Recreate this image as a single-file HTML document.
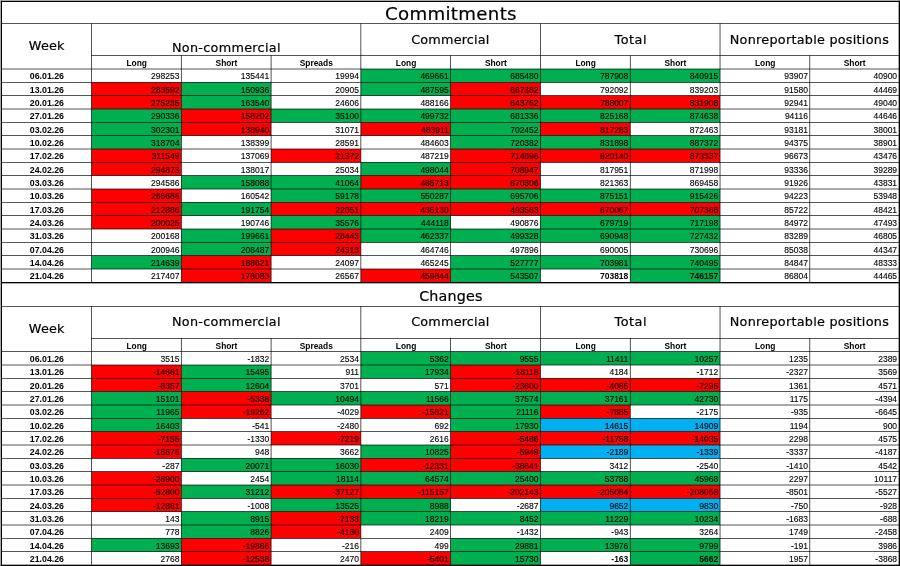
<!DOCTYPE html>
<html><head><meta charset="utf-8"><title>COT report</title>
<style>
html,body{margin:0;padding:0;background:#fff;}
svg{display:block}
text{fill:#000;stroke:#000;stroke-width:0.2px}
.n{stroke-width:0.12px}
.s,.d,.b{stroke-width:0}
.t{font-family:"DejaVu Sans","Liberation Sans",sans-serif;font-size:18.2px}
.t2{font-family:"DejaVu Sans","Liberation Sans",sans-serif;font-size:14.3px}
.h{font-family:"DejaVu Sans","Liberation Sans",sans-serif;font-size:12.8px}
.s{font-family:"Liberation Sans",sans-serif;font-size:8.4px;font-weight:bold}
.d{font-family:"Liberation Sans",sans-serif;font-size:8.8px;font-weight:bold}
.n{font-family:"Liberation Sans",sans-serif;font-size:8.5px}
.b{font-weight:bold}
</style></head><body>
<svg width="900" height="566" viewBox="0 0 900 566">
<rect x="0" y="0" width="900" height="566" fill="#ffffff"/>
<rect x="360.870" y="69.000" width="89.790" height="13.333" fill="#00b050"/>
<rect x="450.660" y="69.000" width="89.790" height="13.333" fill="#00b050"/>
<rect x="540.450" y="69.000" width="89.790" height="13.333" fill="#00b050"/>
<rect x="630.240" y="69.000" width="89.790" height="13.333" fill="#00b050"/>
<rect x="91.500" y="82.333" width="89.790" height="13.333" fill="#ff0000"/>
<rect x="181.290" y="82.333" width="89.790" height="13.333" fill="#00b050"/>
<rect x="360.870" y="82.333" width="89.790" height="13.333" fill="#00b050"/>
<rect x="450.660" y="82.333" width="89.790" height="13.333" fill="#ff0000"/>
<rect x="91.500" y="95.667" width="89.790" height="13.333" fill="#ff0000"/>
<rect x="181.290" y="95.667" width="89.790" height="13.333" fill="#00b050"/>
<rect x="450.660" y="95.667" width="89.790" height="13.333" fill="#ff0000"/>
<rect x="540.450" y="95.667" width="89.790" height="13.333" fill="#ff0000"/>
<rect x="630.240" y="95.667" width="89.790" height="13.333" fill="#ff0000"/>
<rect x="91.500" y="109.000" width="89.790" height="13.333" fill="#00b050"/>
<rect x="181.290" y="109.000" width="89.790" height="13.333" fill="#ff0000"/>
<rect x="271.080" y="109.000" width="89.790" height="13.333" fill="#00b050"/>
<rect x="360.870" y="109.000" width="89.790" height="13.333" fill="#00b050"/>
<rect x="450.660" y="109.000" width="89.790" height="13.333" fill="#00b050"/>
<rect x="540.450" y="109.000" width="89.790" height="13.333" fill="#00b050"/>
<rect x="630.240" y="109.000" width="89.790" height="13.333" fill="#00b050"/>
<rect x="91.500" y="122.333" width="89.790" height="13.333" fill="#00b050"/>
<rect x="181.290" y="122.333" width="89.790" height="13.333" fill="#ff0000"/>
<rect x="360.870" y="122.333" width="89.790" height="13.333" fill="#ff0000"/>
<rect x="450.660" y="122.333" width="89.790" height="13.333" fill="#00b050"/>
<rect x="540.450" y="122.333" width="89.790" height="13.333" fill="#ff0000"/>
<rect x="91.500" y="135.667" width="89.790" height="13.333" fill="#00b050"/>
<rect x="450.660" y="135.667" width="89.790" height="13.333" fill="#00b050"/>
<rect x="540.450" y="135.667" width="89.790" height="13.333" fill="#00b050"/>
<rect x="630.240" y="135.667" width="89.790" height="13.333" fill="#00b050"/>
<rect x="91.500" y="149.000" width="89.790" height="13.333" fill="#ff0000"/>
<rect x="271.080" y="149.000" width="89.790" height="13.333" fill="#ff0000"/>
<rect x="450.660" y="149.000" width="89.790" height="13.333" fill="#ff0000"/>
<rect x="540.450" y="149.000" width="89.790" height="13.333" fill="#ff0000"/>
<rect x="630.240" y="149.000" width="89.790" height="13.333" fill="#ff0000"/>
<rect x="91.500" y="162.333" width="89.790" height="13.333" fill="#ff0000"/>
<rect x="360.870" y="162.333" width="89.790" height="13.333" fill="#00b050"/>
<rect x="450.660" y="162.333" width="89.790" height="13.333" fill="#ff0000"/>
<rect x="181.290" y="175.667" width="89.790" height="13.333" fill="#00b050"/>
<rect x="271.080" y="175.667" width="89.790" height="13.333" fill="#00b050"/>
<rect x="360.870" y="175.667" width="89.790" height="13.333" fill="#ff0000"/>
<rect x="450.660" y="175.667" width="89.790" height="13.333" fill="#ff0000"/>
<rect x="91.500" y="189.000" width="89.790" height="13.333" fill="#ff0000"/>
<rect x="271.080" y="189.000" width="89.790" height="13.333" fill="#00b050"/>
<rect x="360.870" y="189.000" width="89.790" height="13.333" fill="#00b050"/>
<rect x="450.660" y="189.000" width="89.790" height="13.333" fill="#00b050"/>
<rect x="540.450" y="189.000" width="89.790" height="13.333" fill="#00b050"/>
<rect x="630.240" y="189.000" width="89.790" height="13.333" fill="#00b050"/>
<rect x="91.500" y="202.333" width="89.790" height="13.333" fill="#ff0000"/>
<rect x="181.290" y="202.333" width="89.790" height="13.333" fill="#00b050"/>
<rect x="271.080" y="202.333" width="89.790" height="13.333" fill="#ff0000"/>
<rect x="360.870" y="202.333" width="89.790" height="13.333" fill="#ff0000"/>
<rect x="450.660" y="202.333" width="89.790" height="13.333" fill="#ff0000"/>
<rect x="540.450" y="202.333" width="89.790" height="13.333" fill="#ff0000"/>
<rect x="630.240" y="202.333" width="89.790" height="13.333" fill="#ff0000"/>
<rect x="91.500" y="215.667" width="89.790" height="13.333" fill="#ff0000"/>
<rect x="271.080" y="215.667" width="89.790" height="13.333" fill="#00b050"/>
<rect x="360.870" y="215.667" width="89.790" height="13.333" fill="#00b050"/>
<rect x="540.450" y="215.667" width="89.790" height="13.333" fill="#00b050"/>
<rect x="630.240" y="215.667" width="89.790" height="13.333" fill="#00b050"/>
<rect x="181.290" y="229.000" width="89.790" height="13.333" fill="#00b050"/>
<rect x="271.080" y="229.000" width="89.790" height="13.333" fill="#ff0000"/>
<rect x="360.870" y="229.000" width="89.790" height="13.333" fill="#00b050"/>
<rect x="450.660" y="229.000" width="89.790" height="13.333" fill="#00b050"/>
<rect x="540.450" y="229.000" width="89.790" height="13.333" fill="#00b050"/>
<rect x="630.240" y="229.000" width="89.790" height="13.333" fill="#00b050"/>
<rect x="181.290" y="242.333" width="89.790" height="13.333" fill="#00b050"/>
<rect x="271.080" y="242.333" width="89.790" height="13.333" fill="#ff0000"/>
<rect x="91.500" y="255.667" width="89.790" height="13.333" fill="#00b050"/>
<rect x="181.290" y="255.667" width="89.790" height="13.333" fill="#ff0000"/>
<rect x="450.660" y="255.667" width="89.790" height="13.333" fill="#00b050"/>
<rect x="540.450" y="255.667" width="89.790" height="13.333" fill="#00b050"/>
<rect x="630.240" y="255.667" width="89.790" height="13.333" fill="#00b050"/>
<rect x="181.290" y="269.000" width="89.790" height="13.333" fill="#ff0000"/>
<rect x="360.870" y="269.000" width="89.790" height="13.333" fill="#ff0000"/>
<rect x="450.660" y="269.000" width="89.790" height="13.333" fill="#00b050"/>
<rect x="630.240" y="269.000" width="89.790" height="13.333" fill="#00b050"/>
<rect x="1.000" y="23.333" width="898.500" height="0.667" fill="#000"/>
<rect x="91.167" y="55.333" width="808.333" height="0.667" fill="#000"/>
<rect x="1.000" y="68.667" width="898.500" height="0.667" fill="#000"/>
<rect x="1.000" y="82.000" width="898.500" height="0.667" fill="#000"/>
<rect x="1.000" y="95.333" width="898.500" height="0.667" fill="#000"/>
<rect x="1.000" y="108.667" width="898.500" height="0.667" fill="#000"/>
<rect x="1.000" y="122.000" width="898.500" height="0.667" fill="#000"/>
<rect x="1.000" y="135.333" width="898.500" height="0.667" fill="#000"/>
<rect x="1.000" y="148.667" width="898.500" height="0.667" fill="#000"/>
<rect x="1.000" y="162.000" width="898.500" height="0.667" fill="#000"/>
<rect x="1.000" y="175.333" width="898.500" height="0.667" fill="#000"/>
<rect x="1.000" y="188.667" width="898.500" height="0.667" fill="#000"/>
<rect x="1.000" y="202.000" width="898.500" height="0.667" fill="#000"/>
<rect x="1.000" y="215.333" width="898.500" height="0.667" fill="#000"/>
<rect x="1.000" y="228.667" width="898.500" height="0.667" fill="#000"/>
<rect x="1.000" y="242.000" width="898.500" height="0.667" fill="#000"/>
<rect x="1.000" y="255.333" width="898.500" height="0.667" fill="#000"/>
<rect x="1.000" y="268.667" width="898.500" height="0.667" fill="#000"/>
<rect x="91.167" y="23.333" width="0.667" height="258.667" fill="#000"/>
<rect x="180.957" y="55.333" width="0.667" height="226.667" fill="#000"/>
<rect x="270.747" y="55.333" width="0.667" height="226.667" fill="#000"/>
<rect x="360.537" y="23.333" width="0.667" height="258.667" fill="#000"/>
<rect x="450.327" y="55.333" width="0.667" height="226.667" fill="#000"/>
<rect x="540.117" y="23.333" width="0.667" height="258.667" fill="#000"/>
<rect x="629.907" y="55.333" width="0.667" height="226.667" fill="#000"/>
<rect x="719.697" y="23.333" width="0.667" height="258.667" fill="#000"/>
<rect x="809.487" y="55.333" width="0.667" height="226.667" fill="#000"/>
<text x="450.80" y="19.93" class="t" text-anchor="middle" textLength="131.5" lengthAdjust="spacing">Commitments</text>
<text x="46.60" y="50.13" class="h" text-anchor="middle" textLength="35.6" lengthAdjust="spacing">Week</text>
<text x="226.20" y="52.13" class="h" text-anchor="middle" textLength="108.6" lengthAdjust="spacing">Non-commercial</text>
<text x="450.30" y="43.63" class="h" text-anchor="middle" textLength="78.2" lengthAdjust="spacing">Commercial</text>
<text x="630.50" y="43.63" class="h" text-anchor="middle" textLength="32.0" lengthAdjust="spacing">Total</text>
<text x="809.30" y="43.63" class="h" text-anchor="middle" textLength="159.0" lengthAdjust="spacing">Nonreportable positions</text>
<text x="136.70" y="66.00" class="s" text-anchor="middle">Long</text>
<text x="226.49" y="66.00" class="s" text-anchor="middle">Short</text>
<text x="316.28" y="66.00" class="s" text-anchor="middle">Spreads</text>
<text x="406.07" y="66.00" class="s" text-anchor="middle">Long</text>
<text x="495.86" y="66.00" class="s" text-anchor="middle">Short</text>
<text x="585.64" y="66.00" class="s" text-anchor="middle">Long</text>
<text x="675.43" y="66.00" class="s" text-anchor="middle">Short</text>
<text x="765.22" y="66.00" class="s" text-anchor="middle">Long</text>
<text x="854.71" y="66.00" class="s" text-anchor="middle">Short</text>
<text x="46.90" y="79.00" class="d" text-anchor="middle">06.01.26</text>
<text x="179.39" y="79.00" class="n" text-anchor="end">298253</text>
<text x="269.18" y="79.00" class="n" text-anchor="end">135441</text>
<text x="358.97" y="79.00" class="n" text-anchor="end">19994</text>
<text x="448.76" y="79.00" class="n" text-anchor="end">469661</text>
<text x="538.55" y="79.00" class="n" text-anchor="end">685480</text>
<text x="628.34" y="79.00" class="n" text-anchor="end">787908</text>
<text x="718.13" y="79.00" class="n" text-anchor="end">840915</text>
<text x="807.92" y="79.00" class="n" text-anchor="end">93907</text>
<text x="897.10" y="79.00" class="n" text-anchor="end">40900</text>
<text x="46.90" y="93.00" class="d" text-anchor="middle">13.01.26</text>
<text x="179.39" y="93.00" class="n" text-anchor="end">283592</text>
<text x="269.18" y="93.00" class="n" text-anchor="end">150936</text>
<text x="358.97" y="93.00" class="n" text-anchor="end">20905</text>
<text x="448.76" y="93.00" class="n" text-anchor="end">487595</text>
<text x="538.55" y="93.00" class="n" text-anchor="end">667362</text>
<text x="628.34" y="93.00" class="n" text-anchor="end">792092</text>
<text x="718.13" y="93.00" class="n" text-anchor="end">839203</text>
<text x="807.92" y="93.00" class="n" text-anchor="end">91580</text>
<text x="897.10" y="93.00" class="n" text-anchor="end">44469</text>
<text x="46.90" y="106.00" class="d" text-anchor="middle">20.01.26</text>
<text x="179.39" y="106.00" class="n" text-anchor="end">275235</text>
<text x="269.18" y="106.00" class="n" text-anchor="end">163540</text>
<text x="358.97" y="106.00" class="n" text-anchor="end">24606</text>
<text x="448.76" y="106.00" class="n" text-anchor="end">488166</text>
<text x="538.55" y="106.00" class="n" text-anchor="end">643762</text>
<text x="628.34" y="106.00" class="n" text-anchor="end">788007</text>
<text x="718.13" y="106.00" class="n" text-anchor="end">831908</text>
<text x="807.92" y="106.00" class="n" text-anchor="end">92941</text>
<text x="897.10" y="106.00" class="n" text-anchor="end">49040</text>
<text x="46.90" y="119.00" class="d" text-anchor="middle">27.01.26</text>
<text x="179.39" y="119.00" class="n" text-anchor="end">290336</text>
<text x="269.18" y="119.00" class="n" text-anchor="end">158202</text>
<text x="358.97" y="119.00" class="n" text-anchor="end">35100</text>
<text x="448.76" y="119.00" class="n" text-anchor="end">499732</text>
<text x="538.55" y="119.00" class="n" text-anchor="end">681336</text>
<text x="628.34" y="119.00" class="n" text-anchor="end">825168</text>
<text x="718.13" y="119.00" class="n" text-anchor="end">874638</text>
<text x="807.92" y="119.00" class="n" text-anchor="end">94116</text>
<text x="897.10" y="119.00" class="n" text-anchor="end">44646</text>
<text x="46.90" y="133.00" class="d" text-anchor="middle">03.02.26</text>
<text x="179.39" y="133.00" class="n" text-anchor="end">302301</text>
<text x="269.18" y="133.00" class="n" text-anchor="end">138940</text>
<text x="358.97" y="133.00" class="n" text-anchor="end">31071</text>
<text x="448.76" y="133.00" class="n" text-anchor="end">483911</text>
<text x="538.55" y="133.00" class="n" text-anchor="end">702452</text>
<text x="628.34" y="133.00" class="n" text-anchor="end">817283</text>
<text x="718.13" y="133.00" class="n" text-anchor="end">872463</text>
<text x="807.92" y="133.00" class="n" text-anchor="end">93181</text>
<text x="897.10" y="133.00" class="n" text-anchor="end">38001</text>
<text x="46.90" y="146.00" class="d" text-anchor="middle">10.02.26</text>
<text x="179.39" y="146.00" class="n" text-anchor="end">318704</text>
<text x="269.18" y="146.00" class="n" text-anchor="end">138399</text>
<text x="358.97" y="146.00" class="n" text-anchor="end">28591</text>
<text x="448.76" y="146.00" class="n" text-anchor="end">484603</text>
<text x="538.55" y="146.00" class="n" text-anchor="end">720382</text>
<text x="628.34" y="146.00" class="n" text-anchor="end">831898</text>
<text x="718.13" y="146.00" class="n" text-anchor="end">887372</text>
<text x="807.92" y="146.00" class="n" text-anchor="end">94375</text>
<text x="897.10" y="146.00" class="n" text-anchor="end">38901</text>
<text x="46.90" y="159.00" class="d" text-anchor="middle">17.02.26</text>
<text x="179.39" y="159.00" class="n" text-anchor="end">311549</text>
<text x="269.18" y="159.00" class="n" text-anchor="end">137069</text>
<text x="358.97" y="159.00" class="n" text-anchor="end">21372</text>
<text x="448.76" y="159.00" class="n" text-anchor="end">487219</text>
<text x="538.55" y="159.00" class="n" text-anchor="end">714896</text>
<text x="628.34" y="159.00" class="n" text-anchor="end">820140</text>
<text x="718.13" y="159.00" class="n" text-anchor="end">873337</text>
<text x="807.92" y="159.00" class="n" text-anchor="end">96673</text>
<text x="897.10" y="159.00" class="n" text-anchor="end">43476</text>
<text x="46.90" y="173.00" class="d" text-anchor="middle">24.02.26</text>
<text x="179.39" y="173.00" class="n" text-anchor="end">294873</text>
<text x="269.18" y="173.00" class="n" text-anchor="end">138017</text>
<text x="358.97" y="173.00" class="n" text-anchor="end">25034</text>
<text x="448.76" y="173.00" class="n" text-anchor="end">498044</text>
<text x="538.55" y="173.00" class="n" text-anchor="end">708947</text>
<text x="628.34" y="173.00" class="n" text-anchor="end">817951</text>
<text x="718.13" y="173.00" class="n" text-anchor="end">871998</text>
<text x="807.92" y="173.00" class="n" text-anchor="end">93336</text>
<text x="897.10" y="173.00" class="n" text-anchor="end">39289</text>
<text x="46.90" y="186.00" class="d" text-anchor="middle">03.03.26</text>
<text x="179.39" y="186.00" class="n" text-anchor="end">294586</text>
<text x="269.18" y="186.00" class="n" text-anchor="end">158088</text>
<text x="358.97" y="186.00" class="n" text-anchor="end">41064</text>
<text x="448.76" y="186.00" class="n" text-anchor="end">485713</text>
<text x="538.55" y="186.00" class="n" text-anchor="end">670306</text>
<text x="628.34" y="186.00" class="n" text-anchor="end">821363</text>
<text x="718.13" y="186.00" class="n" text-anchor="end">869458</text>
<text x="807.92" y="186.00" class="n" text-anchor="end">91926</text>
<text x="897.10" y="186.00" class="n" text-anchor="end">43831</text>
<text x="46.90" y="199.00" class="d" text-anchor="middle">10.03.26</text>
<text x="179.39" y="199.00" class="n" text-anchor="end">265686</text>
<text x="269.18" y="199.00" class="n" text-anchor="end">160542</text>
<text x="358.97" y="199.00" class="n" text-anchor="end">59178</text>
<text x="448.76" y="199.00" class="n" text-anchor="end">550287</text>
<text x="538.55" y="199.00" class="n" text-anchor="end">695706</text>
<text x="628.34" y="199.00" class="n" text-anchor="end">875151</text>
<text x="718.13" y="199.00" class="n" text-anchor="end">915426</text>
<text x="807.92" y="199.00" class="n" text-anchor="end">94223</text>
<text x="897.10" y="199.00" class="n" text-anchor="end">53948</text>
<text x="46.90" y="213.00" class="d" text-anchor="middle">17.03.26</text>
<text x="179.39" y="213.00" class="n" text-anchor="end">212886</text>
<text x="269.18" y="213.00" class="n" text-anchor="end">191754</text>
<text x="358.97" y="213.00" class="n" text-anchor="end">22051</text>
<text x="448.76" y="213.00" class="n" text-anchor="end">435130</text>
<text x="538.55" y="213.00" class="n" text-anchor="end">493563</text>
<text x="628.34" y="213.00" class="n" text-anchor="end">670067</text>
<text x="718.13" y="213.00" class="n" text-anchor="end">707368</text>
<text x="807.92" y="213.00" class="n" text-anchor="end">85722</text>
<text x="897.10" y="213.00" class="n" text-anchor="end">48421</text>
<text x="46.90" y="226.00" class="d" text-anchor="middle">24.03.26</text>
<text x="179.39" y="226.00" class="n" text-anchor="end">200025</text>
<text x="269.18" y="226.00" class="n" text-anchor="end">190746</text>
<text x="358.97" y="226.00" class="n" text-anchor="end">35576</text>
<text x="448.76" y="226.00" class="n" text-anchor="end">444118</text>
<text x="538.55" y="226.00" class="n" text-anchor="end">490876</text>
<text x="628.34" y="226.00" class="n" text-anchor="end">679719</text>
<text x="718.13" y="226.00" class="n" text-anchor="end">717198</text>
<text x="807.92" y="226.00" class="n" text-anchor="end">84972</text>
<text x="897.10" y="226.00" class="n" text-anchor="end">47493</text>
<text x="46.90" y="239.00" class="d" text-anchor="middle">31.03.26</text>
<text x="179.39" y="239.00" class="n" text-anchor="end">200168</text>
<text x="269.18" y="239.00" class="n" text-anchor="end">199661</text>
<text x="358.97" y="239.00" class="n" text-anchor="end">28443</text>
<text x="448.76" y="239.00" class="n" text-anchor="end">462337</text>
<text x="538.55" y="239.00" class="n" text-anchor="end">499328</text>
<text x="628.34" y="239.00" class="n" text-anchor="end">690948</text>
<text x="718.13" y="239.00" class="n" text-anchor="end">727432</text>
<text x="807.92" y="239.00" class="n" text-anchor="end">83289</text>
<text x="897.10" y="239.00" class="n" text-anchor="end">46805</text>
<text x="46.90" y="253.00" class="d" text-anchor="middle">07.04.26</text>
<text x="179.39" y="253.00" class="n" text-anchor="end">200946</text>
<text x="269.18" y="253.00" class="n" text-anchor="end">208487</text>
<text x="358.97" y="253.00" class="n" text-anchor="end">24313</text>
<text x="448.76" y="253.00" class="n" text-anchor="end">464746</text>
<text x="538.55" y="253.00" class="n" text-anchor="end">497896</text>
<text x="628.34" y="253.00" class="n" text-anchor="end">690005</text>
<text x="718.13" y="253.00" class="n" text-anchor="end">730696</text>
<text x="807.92" y="253.00" class="n" text-anchor="end">85038</text>
<text x="897.10" y="253.00" class="n" text-anchor="end">44347</text>
<text x="46.90" y="266.00" class="d" text-anchor="middle">14.04.26</text>
<text x="179.39" y="266.00" class="n" text-anchor="end">214639</text>
<text x="269.18" y="266.00" class="n" text-anchor="end">188621</text>
<text x="358.97" y="266.00" class="n" text-anchor="end">24097</text>
<text x="448.76" y="266.00" class="n" text-anchor="end">465245</text>
<text x="538.55" y="266.00" class="n" text-anchor="end">527777</text>
<text x="628.34" y="266.00" class="n" text-anchor="end">703981</text>
<text x="718.13" y="266.00" class="n" text-anchor="end">740495</text>
<text x="807.92" y="266.00" class="n" text-anchor="end">84847</text>
<text x="897.10" y="266.00" class="n" text-anchor="end">48333</text>
<text x="46.90" y="279.00" class="d" text-anchor="middle">21.04.26</text>
<text x="179.39" y="279.00" class="n" text-anchor="end">217407</text>
<text x="269.18" y="279.00" class="n" text-anchor="end">176083</text>
<text x="358.97" y="279.00" class="n" text-anchor="end">26567</text>
<text x="448.76" y="279.00" class="n" text-anchor="end">459844</text>
<text x="538.55" y="279.00" class="n" text-anchor="end">543507</text>
<text x="628.34" y="279.00" class="n b" text-anchor="end">703818</text>
<text x="718.13" y="279.00" class="n b" text-anchor="end">746157</text>
<text x="807.92" y="279.00" class="n" text-anchor="end">86804</text>
<text x="897.10" y="279.00" class="n" text-anchor="end">44465</text>
<rect x="360.870" y="351.667" width="89.790" height="13.333" fill="#00b050"/>
<rect x="450.660" y="351.667" width="89.790" height="13.333" fill="#00b050"/>
<rect x="540.450" y="351.667" width="89.790" height="13.333" fill="#00b050"/>
<rect x="630.240" y="351.667" width="89.790" height="13.333" fill="#00b050"/>
<rect x="91.500" y="365.000" width="89.790" height="13.333" fill="#ff0000"/>
<rect x="181.290" y="365.000" width="89.790" height="13.333" fill="#00b050"/>
<rect x="360.870" y="365.000" width="89.790" height="13.333" fill="#00b050"/>
<rect x="450.660" y="365.000" width="89.790" height="13.333" fill="#ff0000"/>
<rect x="91.500" y="378.333" width="89.790" height="13.333" fill="#ff0000"/>
<rect x="181.290" y="378.333" width="89.790" height="13.333" fill="#00b050"/>
<rect x="450.660" y="378.333" width="89.790" height="13.333" fill="#ff0000"/>
<rect x="540.450" y="378.333" width="89.790" height="13.333" fill="#ff0000"/>
<rect x="630.240" y="378.333" width="89.790" height="13.333" fill="#ff0000"/>
<rect x="91.500" y="391.667" width="89.790" height="13.333" fill="#00b050"/>
<rect x="181.290" y="391.667" width="89.790" height="13.333" fill="#ff0000"/>
<rect x="271.080" y="391.667" width="89.790" height="13.333" fill="#00b050"/>
<rect x="360.870" y="391.667" width="89.790" height="13.333" fill="#00b050"/>
<rect x="450.660" y="391.667" width="89.790" height="13.333" fill="#00b050"/>
<rect x="540.450" y="391.667" width="89.790" height="13.333" fill="#00b050"/>
<rect x="630.240" y="391.667" width="89.790" height="13.333" fill="#00b050"/>
<rect x="91.500" y="405.000" width="89.790" height="13.333" fill="#00b050"/>
<rect x="181.290" y="405.000" width="89.790" height="13.333" fill="#ff0000"/>
<rect x="360.870" y="405.000" width="89.790" height="13.333" fill="#ff0000"/>
<rect x="450.660" y="405.000" width="89.790" height="13.333" fill="#00b050"/>
<rect x="540.450" y="405.000" width="89.790" height="13.333" fill="#ff0000"/>
<rect x="91.500" y="418.333" width="89.790" height="13.333" fill="#00b050"/>
<rect x="450.660" y="418.333" width="89.790" height="13.333" fill="#00b050"/>
<rect x="540.450" y="418.333" width="89.790" height="13.333" fill="#00b0f0"/>
<rect x="630.240" y="418.333" width="89.790" height="13.333" fill="#00b0f0"/>
<rect x="91.500" y="431.667" width="89.790" height="13.333" fill="#ff0000"/>
<rect x="271.080" y="431.667" width="89.790" height="13.333" fill="#ff0000"/>
<rect x="450.660" y="431.667" width="89.790" height="13.333" fill="#ff0000"/>
<rect x="540.450" y="431.667" width="89.790" height="13.333" fill="#ff0000"/>
<rect x="630.240" y="431.667" width="89.790" height="13.333" fill="#ff0000"/>
<rect x="91.500" y="445.000" width="89.790" height="13.333" fill="#ff0000"/>
<rect x="360.870" y="445.000" width="89.790" height="13.333" fill="#00b050"/>
<rect x="450.660" y="445.000" width="89.790" height="13.333" fill="#ff0000"/>
<rect x="540.450" y="445.000" width="89.790" height="13.333" fill="#00b0f0"/>
<rect x="630.240" y="445.000" width="89.790" height="13.333" fill="#00b0f0"/>
<rect x="181.290" y="458.333" width="89.790" height="13.333" fill="#00b050"/>
<rect x="271.080" y="458.333" width="89.790" height="13.333" fill="#00b050"/>
<rect x="360.870" y="458.333" width="89.790" height="13.333" fill="#ff0000"/>
<rect x="450.660" y="458.333" width="89.790" height="13.333" fill="#ff0000"/>
<rect x="91.500" y="471.667" width="89.790" height="13.333" fill="#ff0000"/>
<rect x="271.080" y="471.667" width="89.790" height="13.333" fill="#00b050"/>
<rect x="360.870" y="471.667" width="89.790" height="13.333" fill="#00b050"/>
<rect x="450.660" y="471.667" width="89.790" height="13.333" fill="#00b050"/>
<rect x="540.450" y="471.667" width="89.790" height="13.333" fill="#00b050"/>
<rect x="630.240" y="471.667" width="89.790" height="13.333" fill="#00b050"/>
<rect x="91.500" y="485.000" width="89.790" height="13.333" fill="#ff0000"/>
<rect x="181.290" y="485.000" width="89.790" height="13.333" fill="#00b050"/>
<rect x="271.080" y="485.000" width="89.790" height="13.333" fill="#ff0000"/>
<rect x="360.870" y="485.000" width="89.790" height="13.333" fill="#ff0000"/>
<rect x="450.660" y="485.000" width="89.790" height="13.333" fill="#ff0000"/>
<rect x="540.450" y="485.000" width="89.790" height="13.333" fill="#ff0000"/>
<rect x="630.240" y="485.000" width="89.790" height="13.333" fill="#ff0000"/>
<rect x="91.500" y="498.333" width="89.790" height="13.333" fill="#ff0000"/>
<rect x="271.080" y="498.333" width="89.790" height="13.333" fill="#00b050"/>
<rect x="360.870" y="498.333" width="89.790" height="13.333" fill="#00b050"/>
<rect x="540.450" y="498.333" width="89.790" height="13.333" fill="#00b0f0"/>
<rect x="630.240" y="498.333" width="89.790" height="13.333" fill="#00b0f0"/>
<rect x="181.290" y="511.667" width="89.790" height="13.333" fill="#00b050"/>
<rect x="271.080" y="511.667" width="89.790" height="13.333" fill="#ff0000"/>
<rect x="360.870" y="511.667" width="89.790" height="13.333" fill="#00b050"/>
<rect x="450.660" y="511.667" width="89.790" height="13.333" fill="#00b050"/>
<rect x="540.450" y="511.667" width="89.790" height="13.333" fill="#00b050"/>
<rect x="630.240" y="511.667" width="89.790" height="13.333" fill="#00b050"/>
<rect x="181.290" y="525.000" width="89.790" height="13.333" fill="#00b050"/>
<rect x="271.080" y="525.000" width="89.790" height="13.333" fill="#ff0000"/>
<rect x="91.500" y="538.333" width="89.790" height="13.333" fill="#00b050"/>
<rect x="181.290" y="538.333" width="89.790" height="13.333" fill="#ff0000"/>
<rect x="450.660" y="538.333" width="89.790" height="13.333" fill="#00b050"/>
<rect x="540.450" y="538.333" width="89.790" height="13.333" fill="#00b050"/>
<rect x="630.240" y="538.333" width="89.790" height="13.333" fill="#00b050"/>
<rect x="181.290" y="551.667" width="89.790" height="13.333" fill="#ff0000"/>
<rect x="360.870" y="551.667" width="89.790" height="13.333" fill="#ff0000"/>
<rect x="450.660" y="551.667" width="89.790" height="13.333" fill="#00b050"/>
<rect x="630.240" y="551.667" width="89.790" height="13.333" fill="#00b050"/>
<rect x="1.000" y="306.000" width="898.500" height="0.667" fill="#000"/>
<rect x="91.167" y="338.000" width="808.333" height="0.667" fill="#000"/>
<rect x="1.000" y="351.333" width="898.500" height="0.667" fill="#000"/>
<rect x="1.000" y="364.667" width="898.500" height="0.667" fill="#000"/>
<rect x="1.000" y="378.000" width="898.500" height="0.667" fill="#000"/>
<rect x="1.000" y="391.333" width="898.500" height="0.667" fill="#000"/>
<rect x="1.000" y="404.667" width="898.500" height="0.667" fill="#000"/>
<rect x="1.000" y="418.000" width="898.500" height="0.667" fill="#000"/>
<rect x="1.000" y="431.333" width="898.500" height="0.667" fill="#000"/>
<rect x="1.000" y="444.667" width="898.500" height="0.667" fill="#000"/>
<rect x="1.000" y="458.000" width="898.500" height="0.667" fill="#000"/>
<rect x="1.000" y="471.333" width="898.500" height="0.667" fill="#000"/>
<rect x="1.000" y="484.667" width="898.500" height="0.667" fill="#000"/>
<rect x="1.000" y="498.000" width="898.500" height="0.667" fill="#000"/>
<rect x="1.000" y="511.333" width="898.500" height="0.667" fill="#000"/>
<rect x="1.000" y="524.667" width="898.500" height="0.667" fill="#000"/>
<rect x="1.000" y="538.000" width="898.500" height="0.667" fill="#000"/>
<rect x="1.000" y="551.333" width="898.500" height="0.667" fill="#000"/>
<rect x="91.167" y="306.000" width="0.667" height="258.667" fill="#000"/>
<rect x="180.957" y="338.000" width="0.667" height="226.667" fill="#000"/>
<rect x="270.747" y="338.000" width="0.667" height="226.667" fill="#000"/>
<rect x="360.537" y="306.000" width="0.667" height="258.667" fill="#000"/>
<rect x="450.327" y="338.000" width="0.667" height="226.667" fill="#000"/>
<rect x="540.117" y="306.000" width="0.667" height="258.667" fill="#000"/>
<rect x="629.907" y="338.000" width="0.667" height="226.667" fill="#000"/>
<rect x="719.697" y="306.000" width="0.667" height="258.667" fill="#000"/>
<rect x="809.487" y="338.000" width="0.667" height="226.667" fill="#000"/>
<text x="450.80" y="301.00" class="t2" text-anchor="middle" textLength="63.2" lengthAdjust="spacing">Changes</text>
<text x="46.60" y="332.80" class="h" text-anchor="middle" textLength="35.6" lengthAdjust="spacing">Week</text>
<text x="226.20" y="326.40" class="h" text-anchor="middle" textLength="108.6" lengthAdjust="spacing">Non-commercial</text>
<text x="450.30" y="326.30" class="h" text-anchor="middle" textLength="78.2" lengthAdjust="spacing">Commercial</text>
<text x="630.50" y="326.30" class="h" text-anchor="middle" textLength="32.0" lengthAdjust="spacing">Total</text>
<text x="809.30" y="326.30" class="h" text-anchor="middle" textLength="159.0" lengthAdjust="spacing">Nonreportable positions</text>
<text x="136.70" y="349.00" class="s" text-anchor="middle">Long</text>
<text x="226.49" y="349.00" class="s" text-anchor="middle">Short</text>
<text x="316.28" y="349.00" class="s" text-anchor="middle">Spreads</text>
<text x="406.07" y="349.00" class="s" text-anchor="middle">Long</text>
<text x="495.86" y="349.00" class="s" text-anchor="middle">Short</text>
<text x="585.64" y="349.00" class="s" text-anchor="middle">Long</text>
<text x="675.43" y="349.00" class="s" text-anchor="middle">Short</text>
<text x="765.22" y="349.00" class="s" text-anchor="middle">Long</text>
<text x="854.71" y="349.00" class="s" text-anchor="middle">Short</text>
<text x="46.90" y="362.00" class="d" text-anchor="middle">06.01.26</text>
<text x="179.39" y="362.00" class="n" text-anchor="end">3515</text>
<text x="269.18" y="362.00" class="n" text-anchor="end">-1832</text>
<text x="358.97" y="362.00" class="n" text-anchor="end">2534</text>
<text x="448.76" y="362.00" class="n" text-anchor="end">5362</text>
<text x="538.55" y="362.00" class="n" text-anchor="end">9555</text>
<text x="628.34" y="362.00" class="n" text-anchor="end">11411</text>
<text x="718.13" y="362.00" class="n" text-anchor="end">10257</text>
<text x="807.92" y="362.00" class="n" text-anchor="end">1235</text>
<text x="897.10" y="362.00" class="n" text-anchor="end">2389</text>
<text x="46.90" y="375.00" class="d" text-anchor="middle">13.01.26</text>
<text x="179.39" y="375.00" class="n" text-anchor="end">-14661</text>
<text x="269.18" y="375.00" class="n" text-anchor="end">15495</text>
<text x="358.97" y="375.00" class="n" text-anchor="end">911</text>
<text x="448.76" y="375.00" class="n" text-anchor="end">17934</text>
<text x="538.55" y="375.00" class="n" text-anchor="end">-18118</text>
<text x="628.34" y="375.00" class="n" text-anchor="end">4184</text>
<text x="718.13" y="375.00" class="n" text-anchor="end">-1712</text>
<text x="807.92" y="375.00" class="n" text-anchor="end">-2327</text>
<text x="897.10" y="375.00" class="n" text-anchor="end">3569</text>
<text x="46.90" y="389.00" class="d" text-anchor="middle">20.01.26</text>
<text x="179.39" y="389.00" class="n" text-anchor="end">-8357</text>
<text x="269.18" y="389.00" class="n" text-anchor="end">12604</text>
<text x="358.97" y="389.00" class="n" text-anchor="end">3701</text>
<text x="448.76" y="389.00" class="n" text-anchor="end">571</text>
<text x="538.55" y="389.00" class="n" text-anchor="end">-23600</text>
<text x="628.34" y="389.00" class="n" text-anchor="end">-4085</text>
<text x="718.13" y="389.00" class="n" text-anchor="end">-7295</text>
<text x="807.92" y="389.00" class="n" text-anchor="end">1361</text>
<text x="897.10" y="389.00" class="n" text-anchor="end">4571</text>
<text x="46.90" y="402.00" class="d" text-anchor="middle">27.01.26</text>
<text x="179.39" y="402.00" class="n" text-anchor="end">15101</text>
<text x="269.18" y="402.00" class="n" text-anchor="end">-5338</text>
<text x="358.97" y="402.00" class="n" text-anchor="end">10494</text>
<text x="448.76" y="402.00" class="n" text-anchor="end">11566</text>
<text x="538.55" y="402.00" class="n" text-anchor="end">37574</text>
<text x="628.34" y="402.00" class="n" text-anchor="end">37161</text>
<text x="718.13" y="402.00" class="n" text-anchor="end">42730</text>
<text x="807.92" y="402.00" class="n" text-anchor="end">1175</text>
<text x="897.10" y="402.00" class="n" text-anchor="end">-4394</text>
<text x="46.90" y="415.00" class="d" text-anchor="middle">03.02.26</text>
<text x="179.39" y="415.00" class="n" text-anchor="end">11965</text>
<text x="269.18" y="415.00" class="n" text-anchor="end">-19262</text>
<text x="358.97" y="415.00" class="n" text-anchor="end">-4029</text>
<text x="448.76" y="415.00" class="n" text-anchor="end">-15821</text>
<text x="538.55" y="415.00" class="n" text-anchor="end">21116</text>
<text x="628.34" y="415.00" class="n" text-anchor="end">-7885</text>
<text x="718.13" y="415.00" class="n" text-anchor="end">-2175</text>
<text x="807.92" y="415.00" class="n" text-anchor="end">-935</text>
<text x="897.10" y="415.00" class="n" text-anchor="end">-6645</text>
<text x="46.90" y="429.00" class="d" text-anchor="middle">10.02.26</text>
<text x="179.39" y="429.00" class="n" text-anchor="end">16403</text>
<text x="269.18" y="429.00" class="n" text-anchor="end">-541</text>
<text x="358.97" y="429.00" class="n" text-anchor="end">-2480</text>
<text x="448.76" y="429.00" class="n" text-anchor="end">692</text>
<text x="538.55" y="429.00" class="n" text-anchor="end">17930</text>
<text x="628.34" y="429.00" class="n" text-anchor="end">14615</text>
<text x="718.13" y="429.00" class="n" text-anchor="end">14909</text>
<text x="807.92" y="429.00" class="n" text-anchor="end">1194</text>
<text x="897.10" y="429.00" class="n" text-anchor="end">900</text>
<text x="46.90" y="442.00" class="d" text-anchor="middle">17.02.26</text>
<text x="179.39" y="442.00" class="n" text-anchor="end">-7155</text>
<text x="269.18" y="442.00" class="n" text-anchor="end">-1330</text>
<text x="358.97" y="442.00" class="n" text-anchor="end">-7219</text>
<text x="448.76" y="442.00" class="n" text-anchor="end">2616</text>
<text x="538.55" y="442.00" class="n" text-anchor="end">-5486</text>
<text x="628.34" y="442.00" class="n" text-anchor="end">-11758</text>
<text x="718.13" y="442.00" class="n" text-anchor="end">-14035</text>
<text x="807.92" y="442.00" class="n" text-anchor="end">2298</text>
<text x="897.10" y="442.00" class="n" text-anchor="end">4575</text>
<text x="46.90" y="455.00" class="d" text-anchor="middle">24.02.26</text>
<text x="179.39" y="455.00" class="n" text-anchor="end">-16676</text>
<text x="269.18" y="455.00" class="n" text-anchor="end">948</text>
<text x="358.97" y="455.00" class="n" text-anchor="end">3662</text>
<text x="448.76" y="455.00" class="n" text-anchor="end">10825</text>
<text x="538.55" y="455.00" class="n" text-anchor="end">-5949</text>
<text x="628.34" y="455.00" class="n" text-anchor="end">-2189</text>
<text x="718.13" y="455.00" class="n" text-anchor="end">-1339</text>
<text x="807.92" y="455.00" class="n" text-anchor="end">-3337</text>
<text x="897.10" y="455.00" class="n" text-anchor="end">-4187</text>
<text x="46.90" y="469.00" class="d" text-anchor="middle">03.03.26</text>
<text x="179.39" y="469.00" class="n" text-anchor="end">-287</text>
<text x="269.18" y="469.00" class="n" text-anchor="end">20071</text>
<text x="358.97" y="469.00" class="n" text-anchor="end">16030</text>
<text x="448.76" y="469.00" class="n" text-anchor="end">-12331</text>
<text x="538.55" y="469.00" class="n" text-anchor="end">-38641</text>
<text x="628.34" y="469.00" class="n" text-anchor="end">3412</text>
<text x="718.13" y="469.00" class="n" text-anchor="end">-2540</text>
<text x="807.92" y="469.00" class="n" text-anchor="end">-1410</text>
<text x="897.10" y="469.00" class="n" text-anchor="end">4542</text>
<text x="46.90" y="482.00" class="d" text-anchor="middle">10.03.26</text>
<text x="179.39" y="482.00" class="n" text-anchor="end">-28900</text>
<text x="269.18" y="482.00" class="n" text-anchor="end">2454</text>
<text x="358.97" y="482.00" class="n" text-anchor="end">18114</text>
<text x="448.76" y="482.00" class="n" text-anchor="end">64574</text>
<text x="538.55" y="482.00" class="n" text-anchor="end">25400</text>
<text x="628.34" y="482.00" class="n" text-anchor="end">53788</text>
<text x="718.13" y="482.00" class="n" text-anchor="end">45968</text>
<text x="807.92" y="482.00" class="n" text-anchor="end">2297</text>
<text x="897.10" y="482.00" class="n" text-anchor="end">10117</text>
<text x="46.90" y="495.00" class="d" text-anchor="middle">17.03.26</text>
<text x="179.39" y="495.00" class="n" text-anchor="end">-52800</text>
<text x="269.18" y="495.00" class="n" text-anchor="end">31212</text>
<text x="358.97" y="495.00" class="n" text-anchor="end">-37127</text>
<text x="448.76" y="495.00" class="n" text-anchor="end">-115157</text>
<text x="538.55" y="495.00" class="n" text-anchor="end">-202143</text>
<text x="628.34" y="495.00" class="n" text-anchor="end">-205084</text>
<text x="718.13" y="495.00" class="n" text-anchor="end">-208058</text>
<text x="807.92" y="495.00" class="n" text-anchor="end">-8501</text>
<text x="897.10" y="495.00" class="n" text-anchor="end">-5527</text>
<text x="46.90" y="509.00" class="d" text-anchor="middle">24.03.26</text>
<text x="179.39" y="509.00" class="n" text-anchor="end">-12861</text>
<text x="269.18" y="509.00" class="n" text-anchor="end">-1008</text>
<text x="358.97" y="509.00" class="n" text-anchor="end">13525</text>
<text x="448.76" y="509.00" class="n" text-anchor="end">8988</text>
<text x="538.55" y="509.00" class="n" text-anchor="end">-2687</text>
<text x="628.34" y="509.00" class="n" text-anchor="end">9652</text>
<text x="718.13" y="509.00" class="n" text-anchor="end">9830</text>
<text x="807.92" y="509.00" class="n" text-anchor="end">-750</text>
<text x="897.10" y="509.00" class="n" text-anchor="end">-928</text>
<text x="46.90" y="522.00" class="d" text-anchor="middle">31.03.26</text>
<text x="179.39" y="522.00" class="n" text-anchor="end">143</text>
<text x="269.18" y="522.00" class="n" text-anchor="end">8915</text>
<text x="358.97" y="522.00" class="n" text-anchor="end">-7133</text>
<text x="448.76" y="522.00" class="n" text-anchor="end">18219</text>
<text x="538.55" y="522.00" class="n" text-anchor="end">8452</text>
<text x="628.34" y="522.00" class="n" text-anchor="end">11229</text>
<text x="718.13" y="522.00" class="n" text-anchor="end">10234</text>
<text x="807.92" y="522.00" class="n" text-anchor="end">-1683</text>
<text x="897.10" y="522.00" class="n" text-anchor="end">-688</text>
<text x="46.90" y="535.00" class="d" text-anchor="middle">07.04.26</text>
<text x="179.39" y="535.00" class="n" text-anchor="end">778</text>
<text x="269.18" y="535.00" class="n" text-anchor="end">8826</text>
<text x="358.97" y="535.00" class="n" text-anchor="end">-4130</text>
<text x="448.76" y="535.00" class="n" text-anchor="end">2409</text>
<text x="538.55" y="535.00" class="n" text-anchor="end">-1432</text>
<text x="628.34" y="535.00" class="n" text-anchor="end">-943</text>
<text x="718.13" y="535.00" class="n" text-anchor="end">3264</text>
<text x="807.92" y="535.00" class="n" text-anchor="end">1749</text>
<text x="897.10" y="535.00" class="n" text-anchor="end">-2458</text>
<text x="46.90" y="549.00" class="d" text-anchor="middle">14.04.26</text>
<text x="179.39" y="549.00" class="n" text-anchor="end">13693</text>
<text x="269.18" y="549.00" class="n" text-anchor="end">-19866</text>
<text x="358.97" y="549.00" class="n" text-anchor="end">-216</text>
<text x="448.76" y="549.00" class="n" text-anchor="end">499</text>
<text x="538.55" y="549.00" class="n" text-anchor="end">29881</text>
<text x="628.34" y="549.00" class="n" text-anchor="end">13976</text>
<text x="718.13" y="549.00" class="n" text-anchor="end">9799</text>
<text x="807.92" y="549.00" class="n" text-anchor="end">-191</text>
<text x="897.10" y="549.00" class="n" text-anchor="end">3986</text>
<text x="46.90" y="562.00" class="d" text-anchor="middle">21.04.26</text>
<text x="179.39" y="562.00" class="n" text-anchor="end">2768</text>
<text x="269.18" y="562.00" class="n" text-anchor="end">-12538</text>
<text x="358.97" y="562.00" class="n" text-anchor="end">2470</text>
<text x="448.76" y="562.00" class="n" text-anchor="end">-5401</text>
<text x="538.55" y="562.00" class="n" text-anchor="end">15730</text>
<text x="628.34" y="562.00" class="n b" text-anchor="end">-163</text>
<text x="718.13" y="562.00" class="n b" text-anchor="end">5662</text>
<text x="807.92" y="562.00" class="n" text-anchor="end">1957</text>
<text x="897.10" y="562.00" class="n" text-anchor="end">-3868</text>
<rect x="0.667" y="0.667" width="899.333" height="1.333" fill="#000"/>
<rect x="0.667" y="0.667" width="1.333" height="565.333" fill="#000"/>
<rect x="898.667" y="0.667" width="1.333" height="565.333" fill="#000"/>
<rect x="0.667" y="564.667" width="899.333" height="1.333" fill="#000"/>
<rect x="1.000" y="282.000" width="899.000" height="1.333" fill="#000"/>
</svg>
</body></html>
